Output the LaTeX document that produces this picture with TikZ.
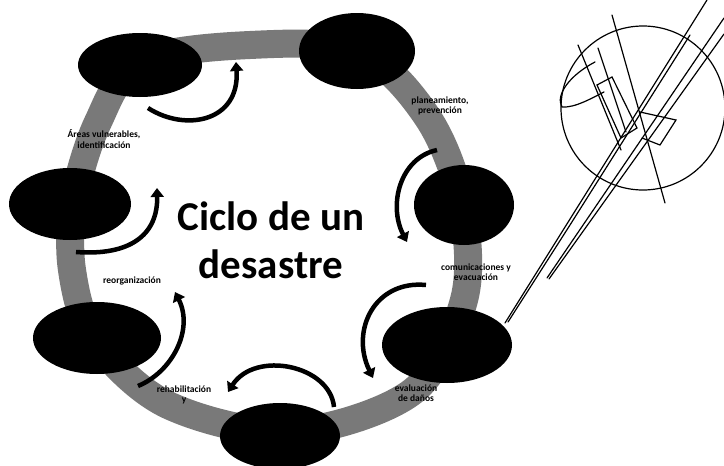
\documentclass[tikz,border=0pt]{standalone}
\usepackage{fontspec}
\setmainfont{Carlito}
\usetikzlibrary{shapes.geometric,arrows.meta}
\begin{document}
\begin{tikzpicture}[x=1pt,y=-1pt,
  stage/.style={ellipse,fill=black,inner sep=0pt},
  cyc/.style={line width=4.5pt,-{Triangle[length=9pt,width=13pt]}},
  lab/.style={font=\bfseries\fontsize{9.5}{10.5}\selectfont,align=center,text=black,inner sep=0pt},
  ring/.style={line width=28pt,gray!50!black!70,line join=round},
  sk/.style={line width=1.2pt,black,line cap=round}]
\useasboundingbox (0,0) rectangle (724,466);
\fill[white] (0,0) rectangle (724,466);
% ring
\draw[ring] plot[smooth cycle,tension=0.55] coordinates {(140,62) (250,45) (360,52) (428,118) (462,205) (464,300) (412,392) (290,432) (168,405) (95,340) (72,270) (74,200) (98,122)};
% stages
\node[stage,minimum width=124pt,minimum height=64pt] (e1) at (140,65) {};
\node[stage,minimum width=116pt,minimum height=76pt] (e2) at (357,51) {};
\node[stage,minimum width=122pt,minimum height=72pt] (e3) at (70,204) {};
\node[stage,minimum width=100pt,minimum height=80pt] (e4) at (464,205) {};
\node[stage,minimum width=128pt,minimum height=72pt] (e5) at (97,338) {};
\node[stage,minimum width=130pt,minimum height=76pt] (e6) at (447,345) {};
\node[stage,minimum width=120pt,minimum height=66pt] (e7) at (280,436) {};
% title
\node[font=\bfseries\fontsize{41}{48}\selectfont,align=center,inner sep=0pt] (title) at (271,240) {Ciclo de un\\desastre};
% labels
\node[lab] (l1) at (104,139) {Áreas vulnerables,\\identificación};
\node[lab] (l2) at (440,106) {planeamiento,\\prevención};
\node[lab] (l3) at (476,272) {comunicaciones y\\evacuación};
\node[lab] (l4) at (416,393) {evaluación\\de daños};
\node[lab] (l5) at (184,395) {rehabilitación\\y};
\node[lab] (l6) at (132,281) {reorganización};
% arrows
\coordinate (a1s) at (148,108); \coordinate (a1e) at (236,62);
\draw[cyc] (a1s) .. controls (185,132) and (240,122) .. (a1e);
\coordinate (a2s) at (76,252); \coordinate (a2e) at (157,188);
\draw[cyc] (a2s) .. controls (130,256) and (158,235) .. (a2e);
\coordinate (a3s) at (437,150); \coordinate (a3e) at (407,242);
\draw[cyc] (a3s) .. controls (400,158) and (388,205) .. (a3e);
\coordinate (a4s) at (426,285); \coordinate (a4e) at (373,378);
\draw[cyc] (a4s) .. controls (375,280) and (350,330) .. (a4e);
\coordinate (a5s) at (334,407); \coordinate (a5e) at (228,392);
\draw[cyc] (a5s) .. controls (330,365) and (255,350) .. (a5e);
\coordinate (a6s) at (138,386); \coordinate (a6e) at (175,292);
\draw[cyc] (a6s) .. controls (172,372) and (194,330) .. (a6e);
% scribble
\draw[sk] (643,108) circle (82);
\draw[sk] (505,323) -- (707,0);
\draw[sk] (508,322) -- (570,225) -- (690,35);
\draw[sk] (547,278) -- (724,18);
\draw[sk] (549,279) -- (724,34);
\draw[sk] (612,15) -- (665,203);
\draw[sk] (578,45) -- (621,150);
\draw[sk] (598,48) -- (626,132);
\draw[sk] (597,85) -- (612,77) -- (637,128) -- (621,138) -- cycle;
\draw[sk] (640,112) -- (676,120) -- (660,145) -- (642,138);
\draw[sk] (595,62) .. controls (570,75) and (555,95) .. (562,107) .. controls (575,108) and (592,98) .. (604,92);
\end{tikzpicture}
\end{document}
